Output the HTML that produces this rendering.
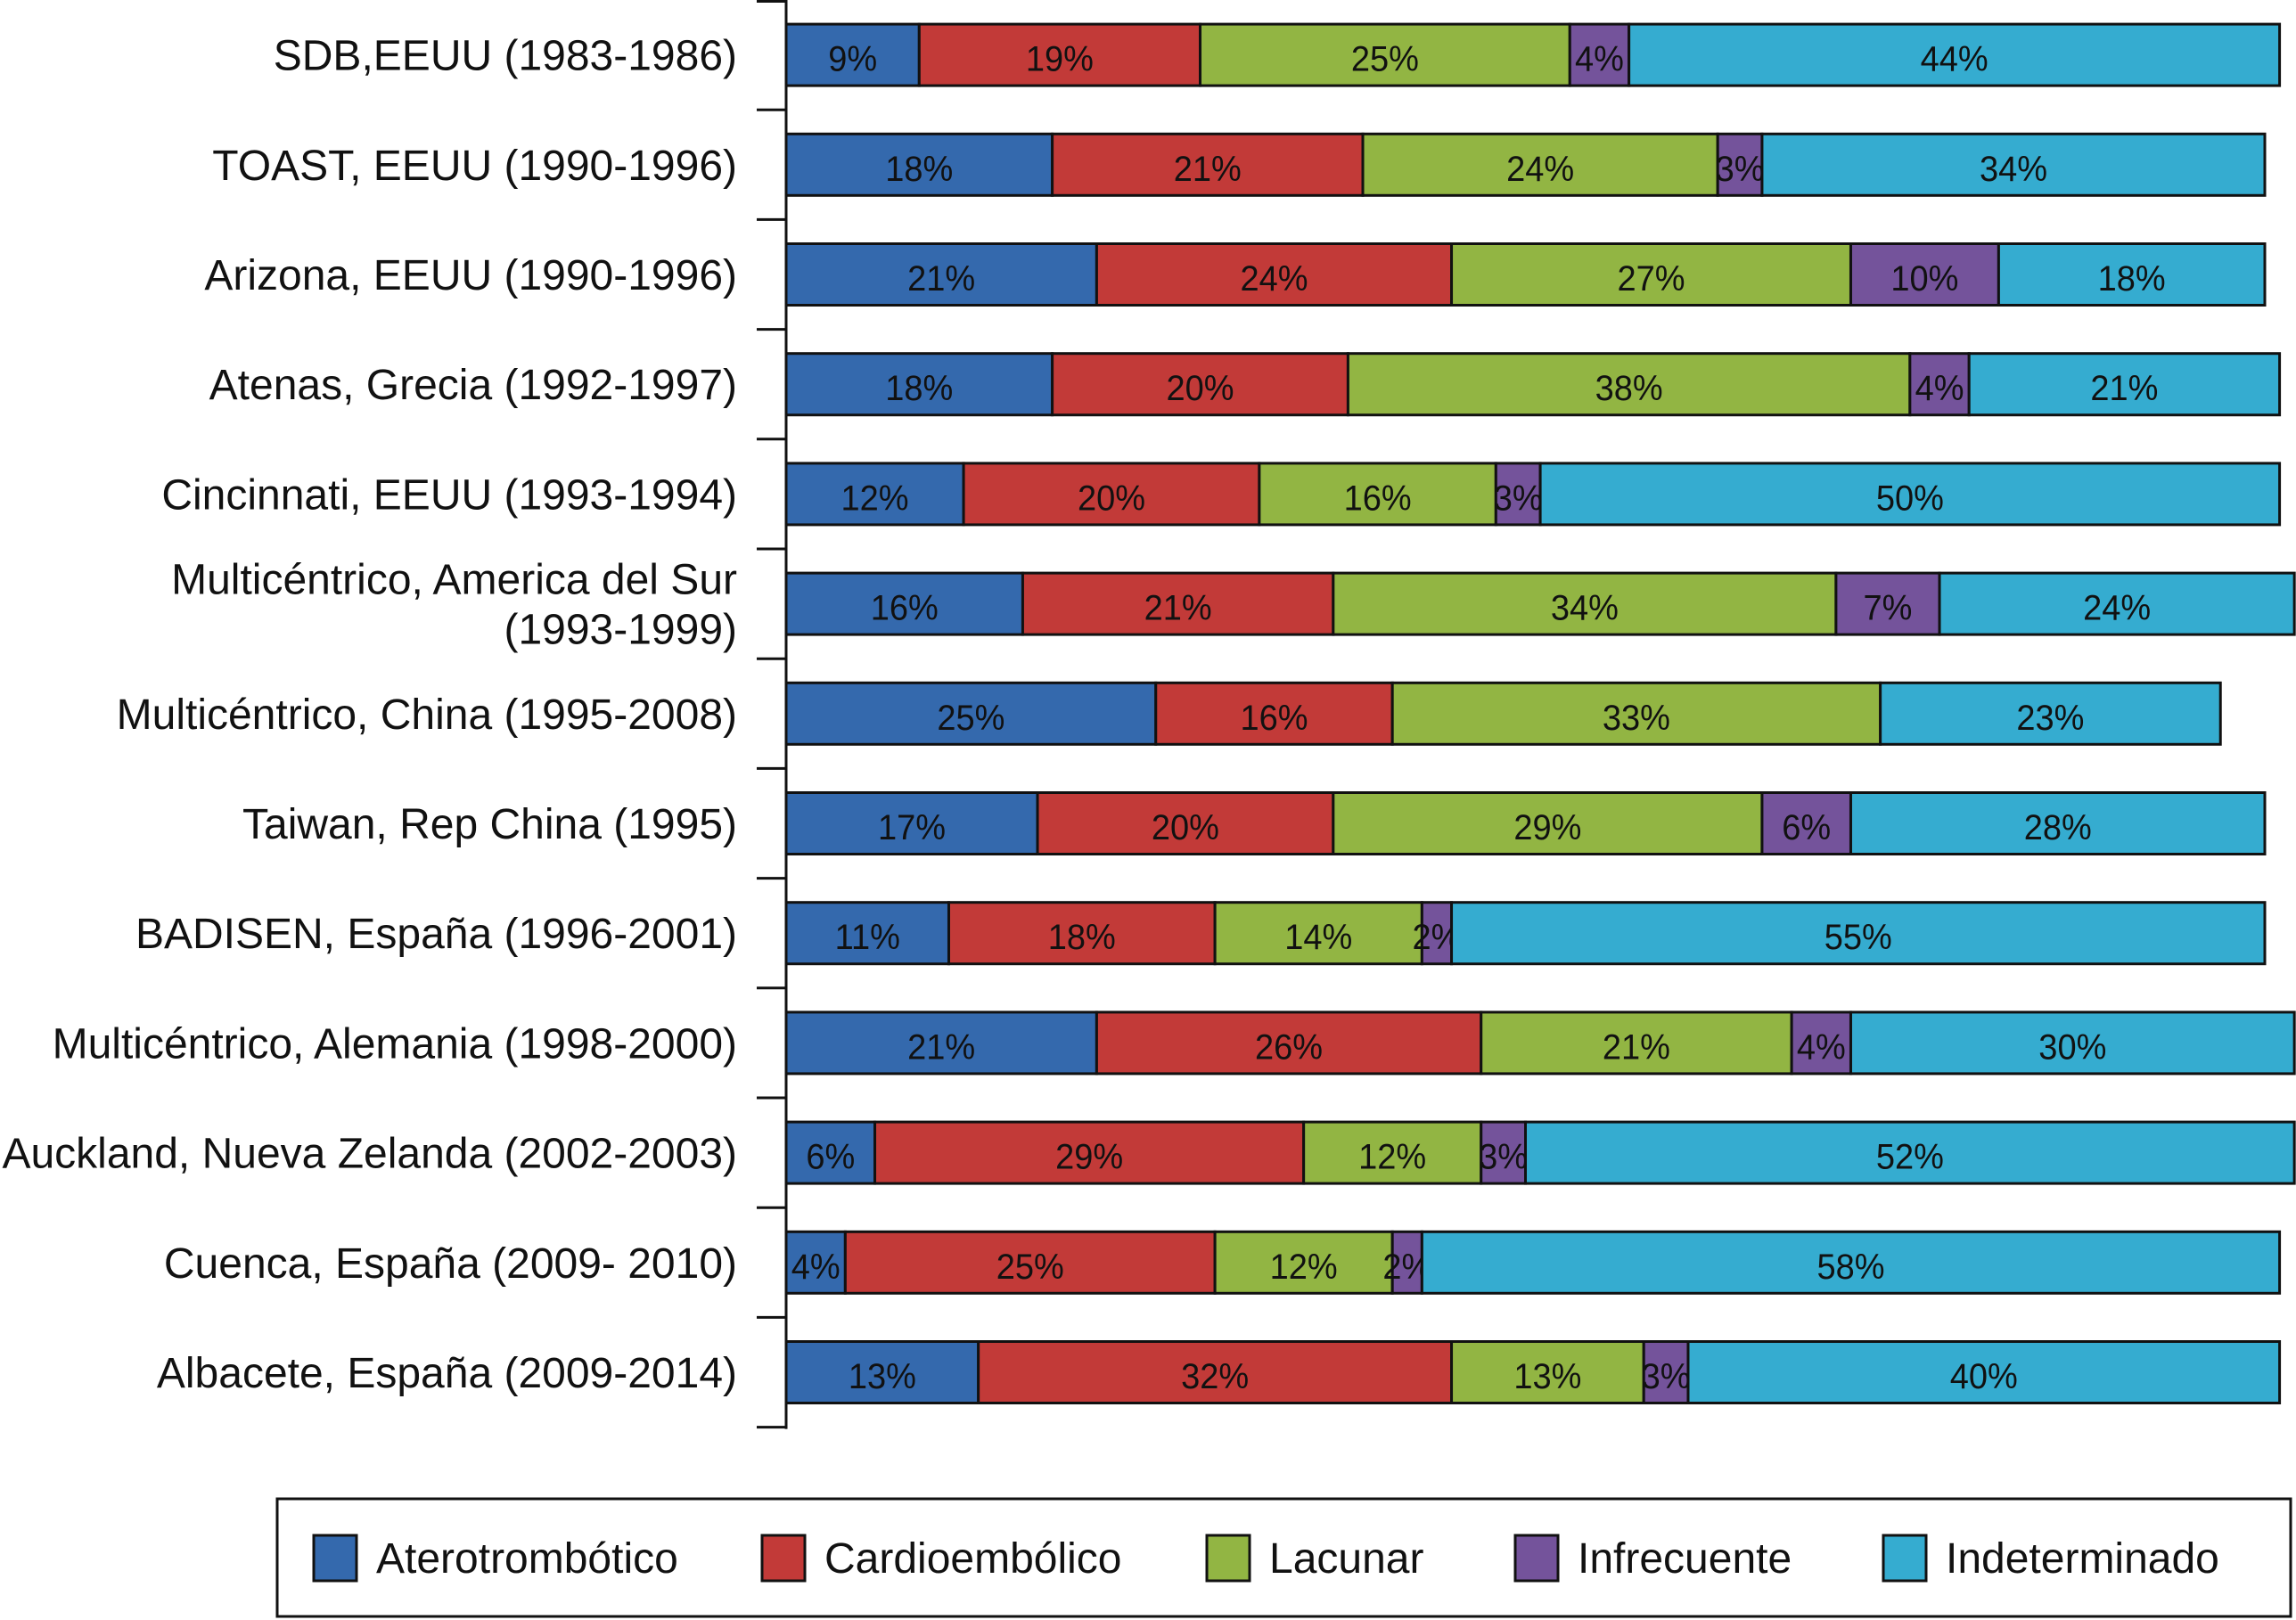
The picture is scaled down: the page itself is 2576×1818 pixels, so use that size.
<!DOCTYPE html>
<html><head><meta charset="utf-8"><style>
html,body{margin:0;padding:0;background:#fff;}
svg{display:block;font-family:"Liberation Sans",Arial,sans-serif;}
</style></head><body>
<svg id="chart" width="2576" height="1818" viewBox="0 0 2576 1818">
<g id="ylabels"></g>
<g id="bars"></g>
<g id="axis"></g>
<g id="legend"></g>
</svg>
<script>
const categories = [
 ["SDB,EEUU (1983-1986)"],
 ["TOAST, EEUU (1990-1996)"],
 ["Arizona, EEUU (1990-1996)"],
 ["Atenas, Grecia (1992-1997)"],
 ["Cincinnati, EEUU (1993-1994)"],
 ["Multicéntrico, America del Sur","(1993-1999)"],
 ["Multicéntrico, China (1995-2008)"],
 ["Taiwan, Rep China (1995)"],
 ["BADISEN, España (1996-2001)"],
 ["Multicéntrico, Alemania (1998-2000)"],
 ["Auckland, Nueva Zelanda (2002-2003)"],
 ["Cuenca, España (2009- 2010)"],
 ["Albacete, España (2009-2014)"]
];
const seriesNames = ["Aterotrombótico","Cardioembólico","Lacunar","Infrecuente","Indeterminado"];
const aterotrombotico = [9,18,21,18,12,16,25,17,11,21,6,4,13];
const cardioembolico = [19,21,24,20,20,21,16,20,18,26,29,25,32];
const lacunar = [25,24,27,38,16,34,33,29,14,21,12,12,13];
const infrecuente = [4,3,10,4,3,7,0,6,2,4,3,2,3];
const indeterminado = [44,34,18,21,50,24,23,28,55,30,52,58,40];
const series = [aterotrombotico,cardioembolico,lacunar,infrecuente,indeterminado];
const colors = ["#3469ad","#c23a38","#92b543","#74539b","#35acd0"];

const NS="http://www.w3.org/2000/svg";
const x0=882, pxPer=16.59, rowH=123.2, top0=0, barH=69;
const xs=v=>x0+v*pxPer;
const yc=i=>top0+rowH*(i+0.5);
function mk(tag,attrs,parent){const e=document.createElementNS(NS,tag);for(const k in attrs)e.setAttribute(k,attrs[k]);parent.appendChild(e);return e;}
function txt(parent,x,y,s,size,anchor,sx){
  const g=mk("g",{transform:`translate(${x},${y}) scale(${sx},1)`},parent);
  const t=mk("text",{x:0,y:0,"font-size":size,"text-anchor":anchor,fill:"#111"},g);
  t.textContent=s;return t;
}
const bars=document.getElementById("bars"), ylab=document.getElementById("ylabels"), axis=document.getElementById("axis"), leg=document.getElementById("legend");
categories.forEach((c,i)=>{
  const cy=yc(i);
  const lines=c.length;
  c.forEach((line,j)=>{
    const t=txt(ylab,827,cy+17+(j-(lines-1)/2)*56,line,48,"end",1.0);
    
    
  });
  let acc=0;
  series.forEach((s,k)=>{
    const v=s[i];
    if(v>0){
      const r=mk("rect",{x:xs(acc),y:cy-barH/2,width:v*pxPer,height:barH,fill:colors[k],stroke:"#111","stroke-width":3},bars);
      
      
      const t=txt(bars,xs(acc+v/2),cy+18,v+"%",40,"middle",0.95);
      
      
    }
    acc+=v;
  });
});
const ax=mk("line",{x1:x0,y1:0,x2:x0,y2:rowH*categories.length+2,stroke:"#111","stroke-width":3},axis);


for(let i=0;i<=categories.length;i++){
  const y=Math.max(1.5,rowH*i);
  const tk=mk("line",{x1:849,y1:y,x2:x0,y2:y,stroke:"#111","stroke-width":3},axis);
  
  
}
const box=mk("rect",{x:311,y:1682,width:2259,height:132,fill:"#fff",stroke:"#111","stroke-width":3},leg);


const swX=[352,855,1354,1700,2113];
seriesNames.forEach((n,k)=>{
  const sw=mk("rect",{x:swX[k],y:1723,width:48,height:51,fill:colors[k],stroke:"#111","stroke-width":3},leg);
  
  
  const t=txt(leg,swX[k]+70,1765,n,48,"start",1.0);
  
  
});
</script>
</body></html>
